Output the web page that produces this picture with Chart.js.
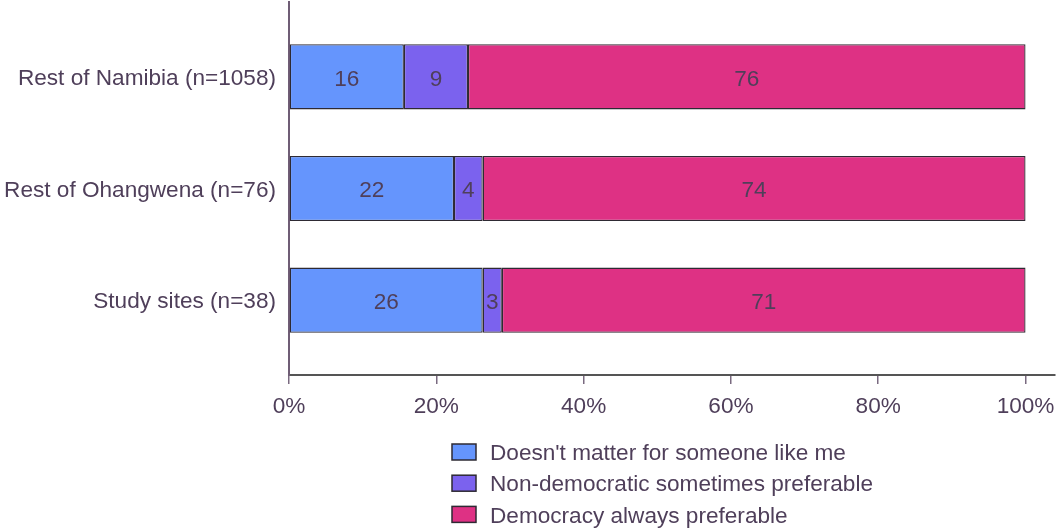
<!DOCTYPE html>
<html><head><meta charset="utf-8">
<script src="https://cdn.jsdelivr.net/npm/chart.js@4/dist/chart.umd.min.js"></script>
<style>html,body{margin:0;padding:0;background:#fff}#wrap{width:1057px;height:528px;position:relative}</style>
</head><body><div id="wrap"><canvas id="c"></canvas></div>
<script>
const categories = ["Rest of Namibia (n=1058)", "Rest of Ohangwena (n=76)", "Study sites (n=38)"];
const seriesNames = ["Doesn't matter for someone like me", "Non-democratic sometimes preferable", "Democracy always preferable"];
const doesntMatter = [15.6, 22.4, 26.3];
const nonDemocratic = [8.7, 3.9, 2.6];
const democracyAlways = [75.7, 73.7, 71.1];
const xTickValues = [0, 20, 40, 60, 80, 100];
const seriesColors = ['#6595fd', '#7b62ee', '#de3184'];

const FONT = '"Liberation Sans", Arial, sans-serif';
const FSIZE = 22.6;
const TEXT = '#4f3f5a';
const seriesValues = [doesntMatter, nonDemocratic, democracyAlways];

const valueLabels = {
  id: 'valueLabels',
  afterDatasetsDraw(chart) {
    const ctx = chart.ctx;
    ctx.save();
    ctx.font = FSIZE + 'px ' + FONT;
    ctx.fillStyle = TEXT;
    ctx.textAlign = 'center';
    ctx.textBaseline = 'middle';
    chart.data.datasets.forEach((ds, di) => {
      chart.getDatasetMeta(di).data.forEach((bar, i) => {
        const c = bar.getCenterPoint();
        ctx.fillText(String(Math.round(ds.data[i].x)), c.x, c.y + 2.5);
      });
    });
    ctx.restore();
  }
};

const stackedLegend = {
  id: 'stackedLegend',
  afterDraw(chart) {
    const ctx = chart.ctx;
    ctx.save();
    ctx.font = FSIZE + 'px ' + FONT;
    ctx.textBaseline = 'middle';
    ctx.textAlign = 'left';
    const left = chart.chartArea.left + 163;
    chart.data.datasets.forEach((ds, i) => {
      const cy = chart.chartArea.bottom + 77 + i * 31.2;
      ctx.fillStyle = ds.backgroundColor;
      ctx.fillRect(left, cy - 8, 24, 16);
      ctx.strokeStyle = '#2e2a33';
      ctx.lineWidth = 1.5;
      ctx.strokeRect(left, cy - 8, 24, 16);
      ctx.fillStyle = TEXT;
      ctx.fillText(ds.label, left + 38, cy + 2);
    });
    ctx.restore();
  }
};

new Chart(document.getElementById('c'), {
  type: 'bar',
  data: {
    datasets: seriesNames.map((name, si) => ({
      label: name,
      data: seriesValues[si].map((v, i) => ({ x: v, y: i })),
      backgroundColor: seriesColors[si],
      borderColor: '#2e2a33',
      borderWidth: 1.3,
      borderSkipped: false,
      barPercentage: 0.583,
      categoryPercentage: 1
    }))
  },
  options: {
    indexAxis: 'y',
    responsive: true,
    maintainAspectRatio: false,
    animation: false,
    layout: { padding: { top: 2, right: 2, bottom: 103, left: 0 } },
    plugins: { legend: { display: false }, tooltip: { enabled: false } },
    scales: {
      x: {
        type: 'linear', min: 0, max: 104, stacked: true,
        afterBuildTicks: s => { s.ticks = xTickValues.map(v => ({ value: v })); },
        ticks: { callback: v => v + '%', font: { family: FONT, size: FSIZE }, color: TEXT, padding: 9, maxRotation: 0, autoSkip: false },
        grid: { drawOnChartArea: false, drawTicks: true, tickLength: 9, color: '#7a6a80', lineWidth: 1.5 },
        border: { display: true, color: '#555555', width: 2 },
        afterFit: s => { s.height = 50; s.paddingLeft = 0; s.paddingRight = 0; }
      },
      y: {
        type: 'linear', reverse: true, min: -0.67, max: 2.67, stacked: true, offset: false,
        afterBuildTicks: s => { s.ticks = categories.map((c, i) => ({ value: i })); },
        ticks: { callback: v => categories[v], font: { family: FONT, size: FSIZE }, color: TEXT, padding: 13, labelOffset: 2, autoSkip: false },
        grid: { display: false, drawTicks: false, offset: false },
        border: { display: true, color: '#6f5d75', width: 2 },
        afterFit: s => { s.width = 289; s.paddingTop = 0; s.paddingBottom = 0; }
      }
    }
  },
  plugins: [valueLabels, stackedLegend]
});
</script>
</body></html>
